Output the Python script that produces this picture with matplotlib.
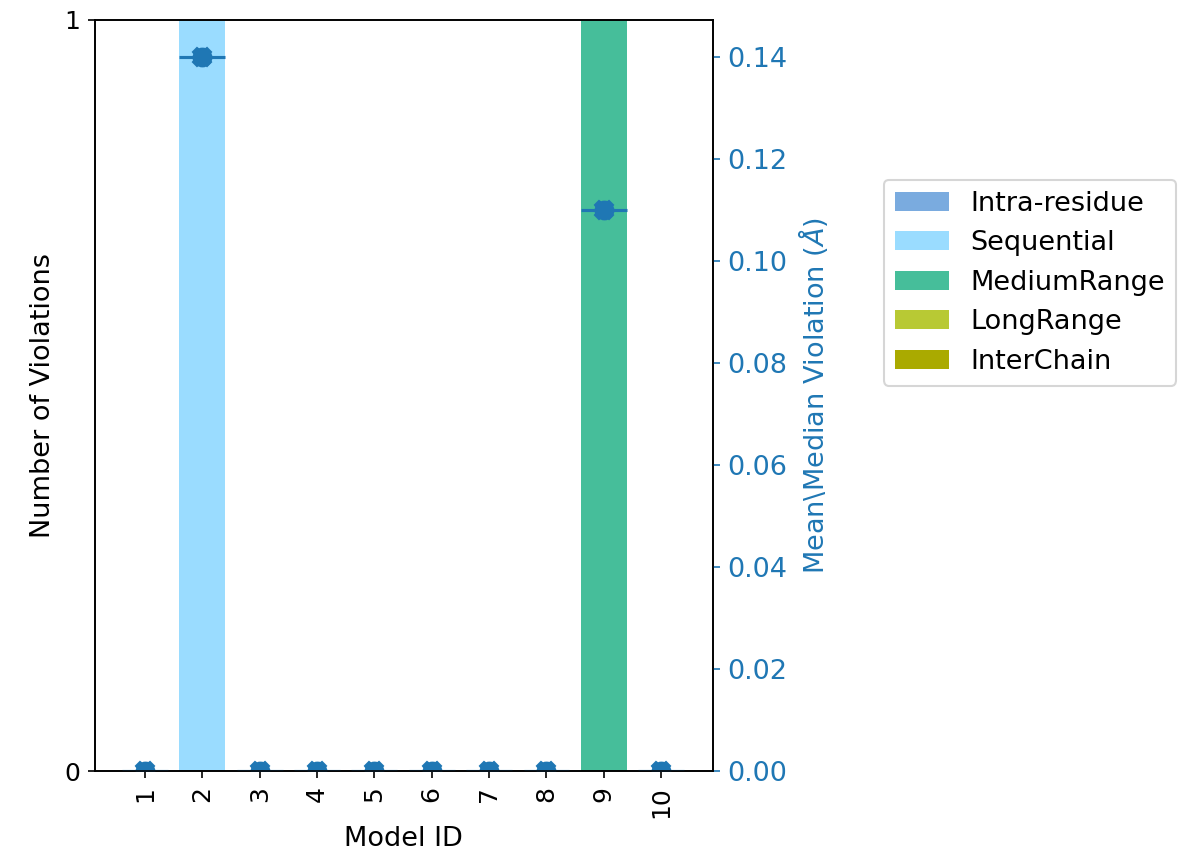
import matplotlib
matplotlib.use("Agg")
import matplotlib.pyplot as plt
import numpy as np

plt.rcParams["font.size"] = 12

models = [1, 2, 3, 4, 5, 6, 7, 8, 9, 10]
categories = ["Intra-residue", "Sequential", "MediumRange", "LongRange", "InterChain"]
colors = ["#7aabdf", "#9adcff", "#46be9a", "#b8c934", "#aaaa00"]
counts = {
    "Intra-residue": [0, 0, 0, 0, 0, 0, 0, 0, 0, 0],
    "Sequential":    [0, 1, 0, 0, 0, 0, 0, 0, 0, 0],
    "MediumRange":   [0, 0, 0, 0, 0, 0, 0, 0, 1, 0],
    "LongRange":     [0, 0, 0, 0, 0, 0, 0, 0, 0, 0],
    "InterChain":    [0, 0, 0, 0, 0, 0, 0, 0, 0, 0],
}
mean_viol = [0, 0.140, 0, 0, 0, 0, 0, 0, 0.110, 0]
median_viol = [0, 0.140, 0, 0, 0, 0, 0, 0, 0.110, 0]

fig = plt.figure(figsize=(7.92, 5.7), dpi=150)
ax = fig.add_axes([0.08, 0.098, 0.52, 0.879])

bottom = np.zeros(len(models))
for cat, col in zip(categories, colors):
    ax.bar(models, counts[cat], width=0.8, bottom=bottom, color=col, label=cat)
    bottom += np.array(counts[cat])

ax.set_ylim(0, 1)
ax.set_yticks([0, 1])
ax.set_xlim(0.13, 10.9)
ax.set_xticks(models)
ax.set_xticklabels(models, rotation=90)
ax.set_xlabel("Model ID", fontsize=13)
ax.set_ylabel("Number of Violations", fontsize=13)

ax2 = ax.twinx()
blue = "#1f77b4"
ax2.hlines(mean_viol, np.array(models) - 0.4, np.array(models) + 0.4, color=blue)
ax2.plot(models, mean_viol, "o", color=blue, ls="none", ms=8.5)
ax2.plot(models, median_viol, "X", color=blue, ls="none", ms=9)
ax2.set_ylim(0, 0.1473)
ax2.set_ylabel(r"Mean\Median Violation ($\AA$)", color=blue, fontsize=13)
ax2.set_yticks(np.arange(0, 0.141, 0.02))
ax2.set_yticklabels([f"{v:.2f}" for v in np.arange(0, 0.141, 0.02)], color=blue, fontsize=13)
ax2.tick_params(axis="y", colors=blue)

ax.legend(loc="center left", bbox_to_anchor=(1.255, 0.65), fontsize=13)

plt.savefig("out.png", dpi=150)
